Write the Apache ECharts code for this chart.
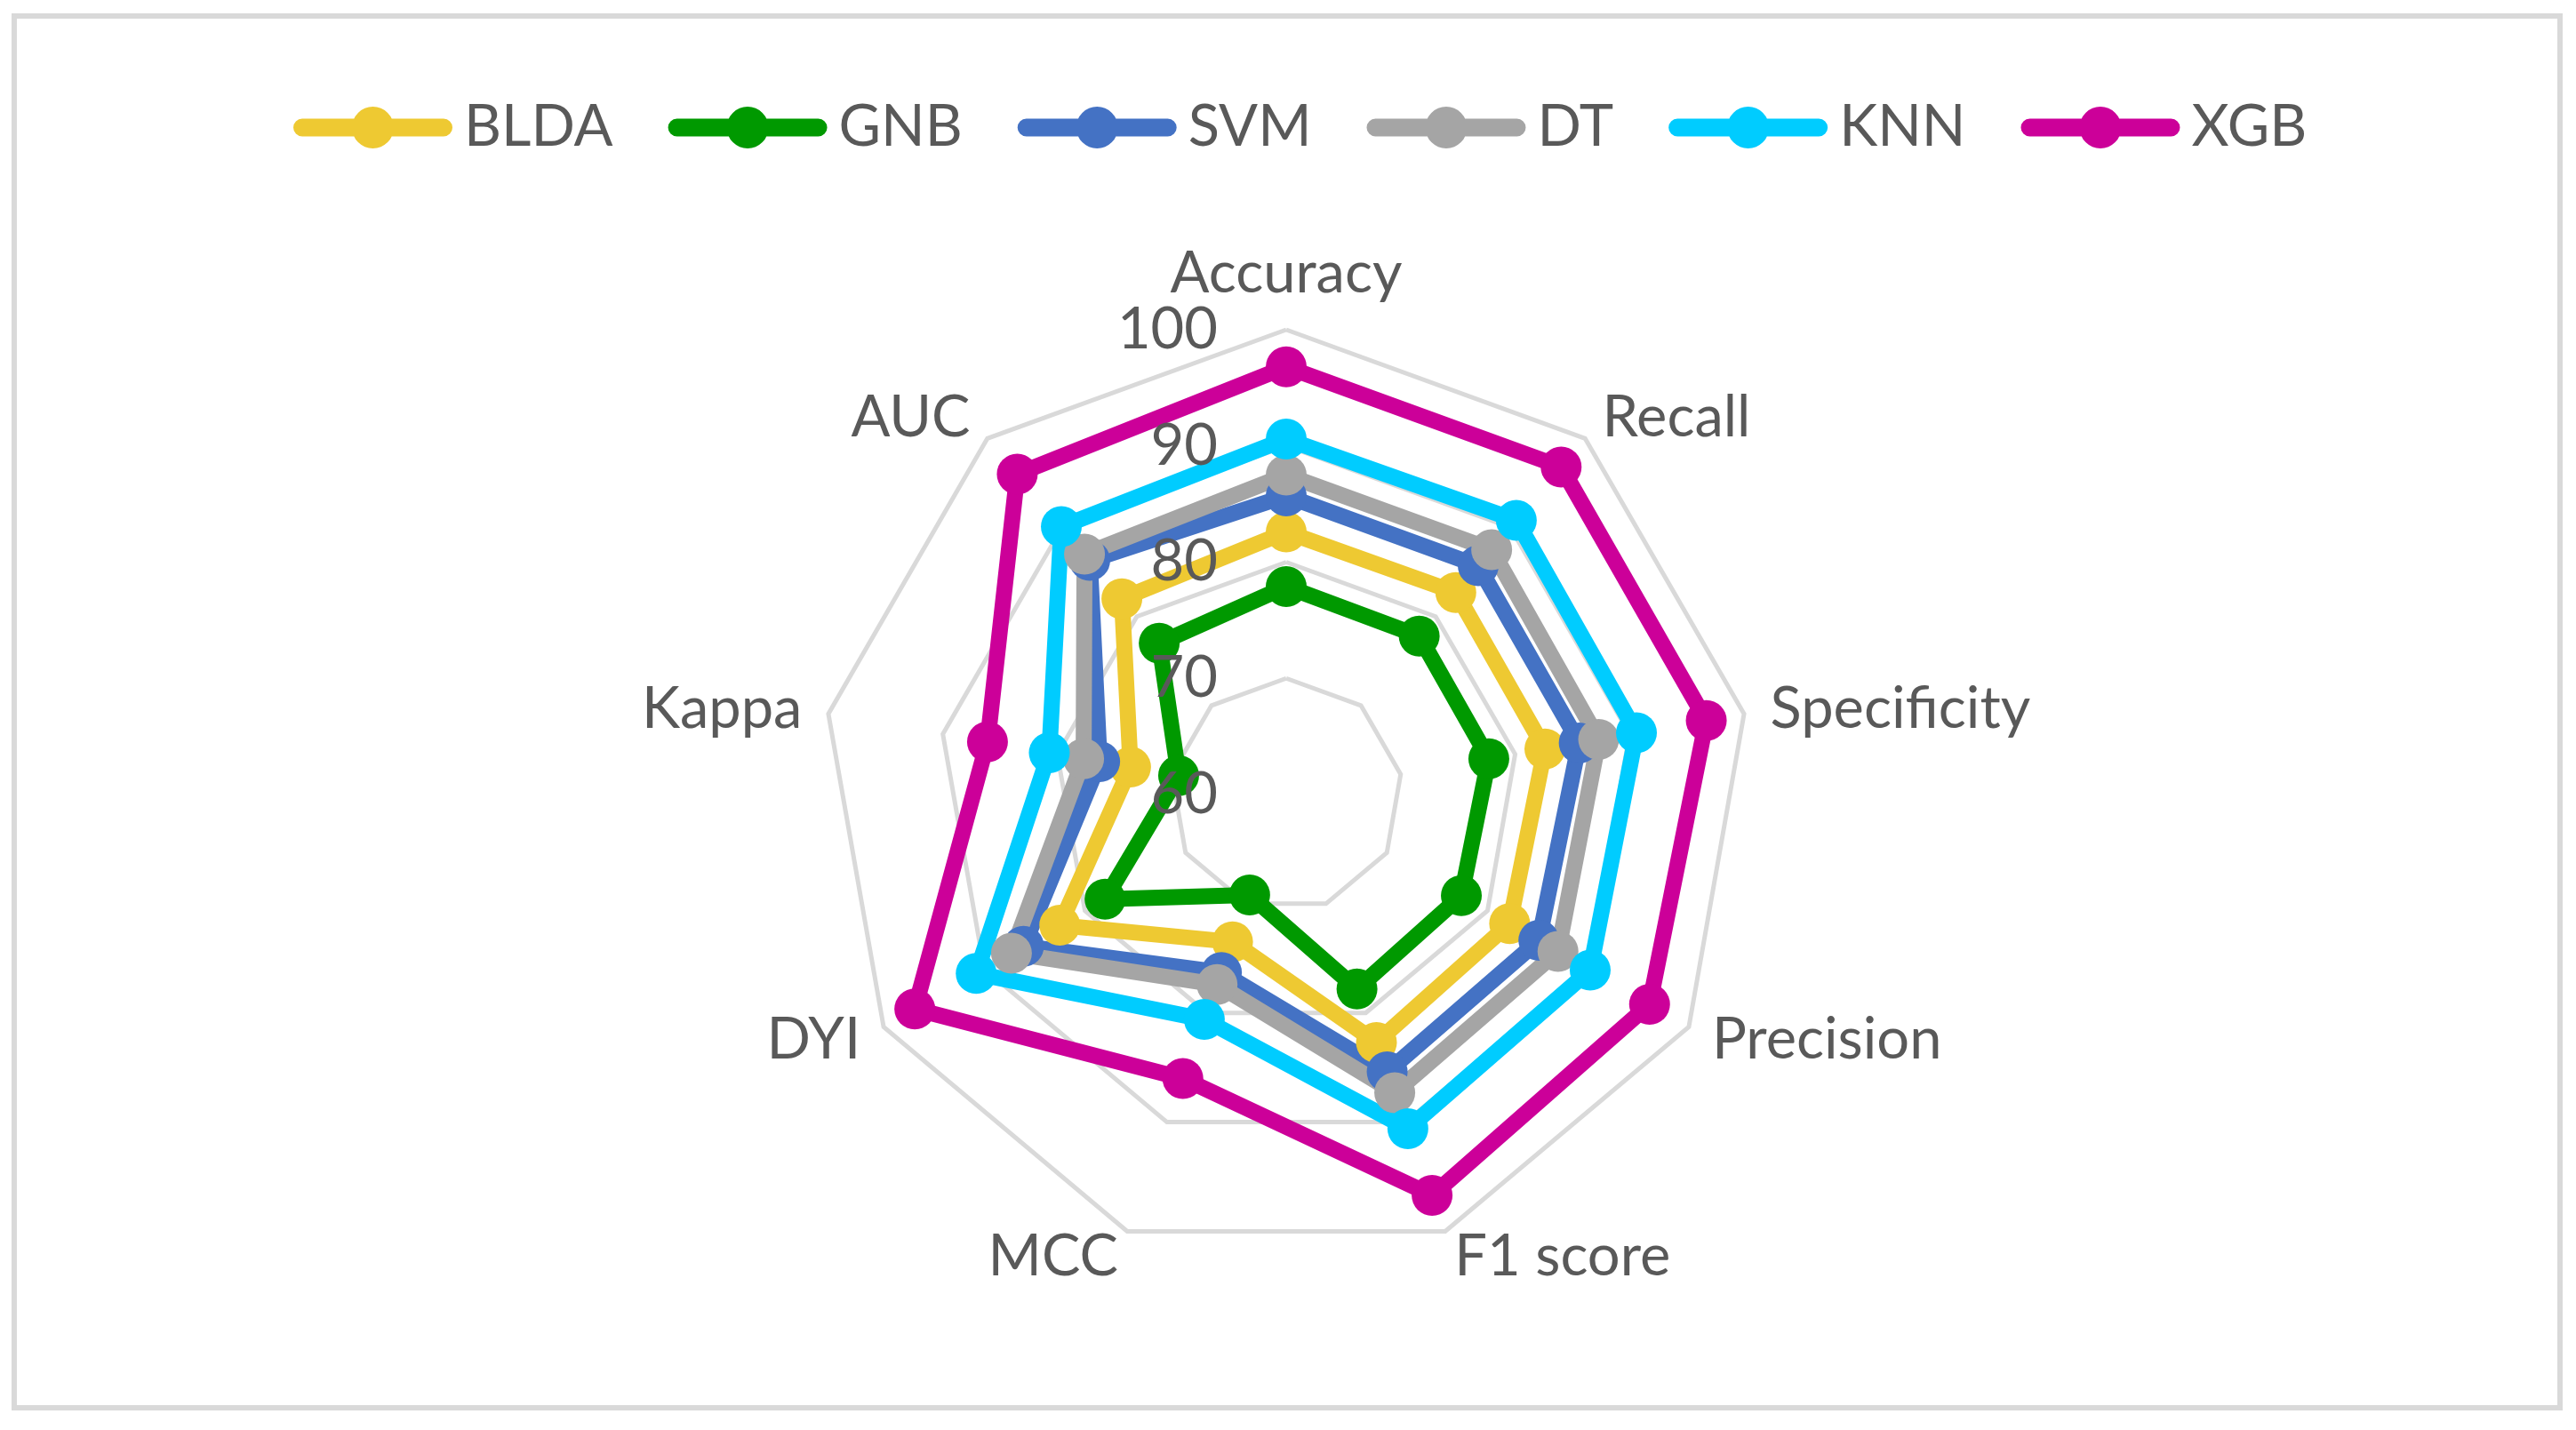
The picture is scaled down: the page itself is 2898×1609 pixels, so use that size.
<!DOCTYPE html>
<html>
<head>
<meta charset="utf-8">
<script src="https://cdn.jsdelivr.net/npm/echarts@6/dist/echarts.min.js"></script>
<style>
html,body{margin:0;padding:0;background:#fff;}
#chart{width:2898px;height:1609px;}
</style>
</head>
<body>
<div id="chart"></div>
<script>
// ---- data ----
const categories = ['Accuracy', 'Recall', 'Specificity', 'Precision', 'F1 score', 'MCC', 'DYI', 'Kappa', 'AUC'];
const models = ['BLDA', 'GNB', 'SVM', 'DT', 'KNN', 'XGB'];
const bldaValues = [82.6, 82.7, 82.6, 82.2, 82.7, 73.5, 82.5, 73.6, 82.0];
const gnbValues  = [77.9, 77.8, 77.7, 77.4, 77.8, 69.2, 78.0, 69.4, 77.0];
const svmValues  = [85.7, 85.7, 85.6, 85.1, 85.4, 76.3, 86.1, 76.3, 86.3];
const dtValues   = [87.5, 87.5, 87.3, 87.0, 87.3, 77.4, 87.3, 77.7, 87.0];
const knnValues  = [90.6, 90.8, 90.6, 90.2, 90.6, 80.6, 90.8, 80.7, 90.1];
const xgbValues  = [96.8, 96.8, 96.7, 96.1, 96.7, 86.0, 96.9, 86.1, 96.0];
const axisTicks = [60, 70, 80, 90, 100];

// ---- styles ----
const colors = ['#EEC932', '#009900', '#4472C4', '#A5A5A5', '#00CCFF', '#CC0099'];
const textColor = '#595959';
const fontFamily = 'Lato, "Noto Sans", sans-serif';
const fontSize = 65;

const seriesValues = [bldaValues, gnbValues, svmValues, dtValues, knnValues, xgbValues];

// ECharts lays indicators out counter-clockwise; reorder so they run clockwise like the reference.
const order = [0].concat(categories.slice(1).map((_, i) => categories.length - 1 - i));

const tickMin = axisTicks[0];
const tickMax = axisTicks[axisTicks.length - 1];

const baseIndicator = order.map(ci => ({ name: categories[ci], min: tickMin, max: tickMax }));
// label-only copy (drawn above the series, like the reference)
const labelIndicator = order.map((ci, k) => {
  const ind = { name: categories[ci], min: tickMin, max: tickMax };
  if (k === 0) {
    ind.axisLabel = { show: true, color: textColor, fontSize: fontSize, fontFamily: fontFamily, margin: 77, padding: [14, 0, 0, 0] };
  }
  return ind;
});

const legendIcon = 'path://M10,13.5 L169,13.5 A10,10 0 0,1 169,33.5 L10,33.5 A10,10 0 0,1 10,13.5 Z M66,23.5 A23.5,23.5 0 1,1 113,23.5 A23.5,23.5 0 1,1 66,23.5 Z';

const series = models.map((m, i) => ({
  type: 'radar',
  name: m,
  radarIndex: 0,
  symbol: 'circle',
  symbolSize: 46,
  lineStyle: { width: 18, color: colors[i], join: 'round', cap: 'round' },
  itemStyle: { color: colors[i] },
  emphasis: { disabled: true },
  data: [{ name: m, value: order.map(ci => seriesValues[i][ci]) }]
}));

const radarCommon = {
  center: [1447, 894],
  radius: 523,
  startAngle: 90,
  shape: 'polygon',
  splitNumber: axisTicks.length - 1,
  nameGap: 30,
  splitArea: { show: false },
  axisLine: { show: false },
  axisTick: { show: false },
  axisLabel: { show: false }
};

const chart = echarts.init(document.getElementById('chart'), null, { renderer: 'canvas' });
chart.setOption({
  backgroundColor: '#ffffff',
  animation: false,
  color: colors,
  legend: {
    data: models,
    left: 330,
    top: 111,
    padding: 0,
    itemWidth: 179,
    itemHeight: 47,
    itemGap: 62,
    icon: legendIcon,
    textStyle: { color: textColor, fontSize: fontSize, fontFamily: fontFamily, padding: [0, 0, 0, 8] }
  },
  radar: [
    Object.assign({}, radarCommon, {
      z: 0,
      axisName: { color: textColor, fontSize: fontSize, fontFamily: fontFamily },
      indicator: baseIndicator,
      splitLine: { lineStyle: { color: '#D9D9D9', width: 5 } }
    }),
    Object.assign({}, radarCommon, {
      z: 10,
      axisName: { show: false },
      indicator: labelIndicator,
      splitLine: { show: false }
    })
  ],
  graphic: [{
    type: 'rect',
    shape: { x: 16, y: 18, width: 2864, height: 1566 },
    style: { fill: 'none', stroke: '#D9D9D9', lineWidth: 6 },
    silent: true,
    z: -1
  }],
  series: series
});
</script>
</body>
</html>
